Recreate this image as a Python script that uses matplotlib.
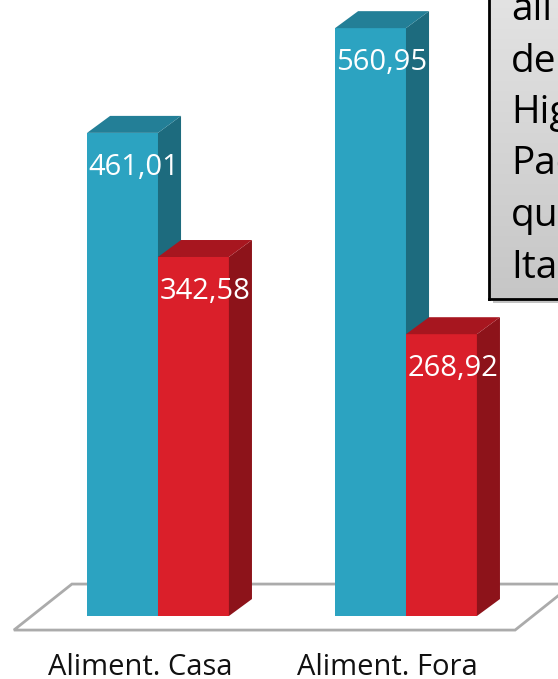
import matplotlib
matplotlib.use("Agg")
import matplotlib.pyplot as plt
from matplotlib.patches import Polygon, Rectangle
import numpy as np

# chart data
categories = ["Aliment. Casa", "Aliment. Fora"]
serie_azul = [461.01, 560.95]
serie_vermelha = [342.58, 268.92]
rotulos_azul = ["461,01", "560,95"]
rotulos_vermelha = ["342,58", "268,92"]
caixa_linhas = ["ali", "de", "Hig", "Pac", "qu", "Ita"]

# colours: front, side, top
AZUL = ("#2ca3c1", "#1d6b7e", "#237f97")
VERMELHO = ("#da1f2a", "#8d131a", "#a7161f")

plt.rcParams['font.family'] = ['Open Sans', 'DejaVu Sans']

W, H = 558, 679
fig = plt.figure(figsize=(W / 100, H / 100), dpi=100)
ax = fig.add_axes([0, 0, 1, 1])
ax.set_xlim(-0.637, 1.613)
ax.set_ylim(-60.1, 587.8)
ax.axis('off')

bar_w = 0.286
dx, dy = 0.093, 16.2

# floor
floor = Polygon([(-0.347, 30.5), (1.673, 30.5), (1.44, -13.4), (-0.581, -13.4)],
                closed=True, facecolor='white', edgecolor='#ababab', lw=2, zorder=1)
ax.add_patch(floor)


def draw_bar(xl, v, cols, label):
    front, side, top = cols
    ax.bar(xl, v, width=bar_w, align='edge', color=front, zorder=3)
    ax.add_patch(Polygon([(xl + bar_w, 0), (xl + bar_w, v), (xl + bar_w + dx, v + dy),
                          (xl + bar_w + dx, dy)], closed=True, facecolor=side,
                         edgecolor='none', zorder=3))
    ax.add_patch(Polygon([(xl, v), (xl + bar_w, v), (xl + bar_w + dx, v + dy),
                          (xl + dx, v + dy)], closed=True, facecolor=top,
                         edgecolor='none', zorder=3))
    ax.text(xl + (bar_w + dx) / 2, v - 40, label, color='white', fontsize=21,
            ha='center', va='baseline', zorder=5)


for i, cat in enumerate(categories):
    draw_bar(i - bar_w, serie_azul[i], AZUL, rotulos_azul[i])
    draw_bar(i, serie_vermelha[i], VERMELHO, rotulos_vermelha[i])
    ax.text(i - 0.073, -56.5, cat, fontsize=21, ha='center', va='baseline', color='#111111')

# text box at top right (cut by the image edge)
bx0, by0 = 489 / W, 1 - 299 / H
shadow = Rectangle((bx0 + 4 / W, by0 - 4 / H), 1, 1, transform=fig.transFigure,
                   facecolor='#9a9a9a', alpha=0.6, zorder=8)
fig.patches.append(shadow)
box_ax = fig.add_axes([bx0, by0, 0.3, 1 - by0 + 0.05], zorder=9)
grad = np.linspace(0, 1, 256).reshape(-1, 1)
box_ax.imshow(grad, cmap=matplotlib.colors.LinearSegmentedColormap.from_list(
    'g', ['#c6c6c6', '#e6e6e6']), aspect='auto', origin='lower', extent=(0, 1, 0, 1))
box_ax.set_xticks([])
box_ax.set_yticks([])
for sp in box_ax.spines.values():
    sp.set_linewidth(2)
    sp.set_color('black')

for k, linha in enumerate(caixa_linhas):
    fig.text(511 / W, 1 - (20 + 51.5 * k) / H, linha, fontsize=28, ha='left',
             va='baseline', color='black', zorder=10)

fig.savefig('out.png', dpi=100)
